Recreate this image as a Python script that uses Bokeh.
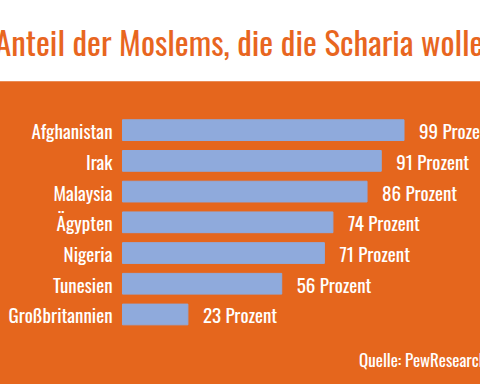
import numpy as np
from bokeh.plotting import figure
from bokeh.models import Range1d, ColumnDataSource, GlobalInlineStyleSheet, BoxAnnotation, Label
from bokeh.core.properties import value
from bokeh.embed import file_html
from bokeh.resources import INLINE

countries = ["Afghanistan", "Irak", "Malaysia", "Ägypten", "Nigeria", "Tunesien", "Großbritannien"]
shares = [99, 91, 86, 74, 71, 56, 23]
value_labels = [f"{v} Prozent" for v in shares]
title_text = "Anteil der Moslems, die die Scharia wollen"
source_text = "Quelle: PewResearch"

FONT = "Oswald"
ORANGE = "#E5661D"
BLUE = "#8FAADC"

src = ColumnDataSource(dict(
    idx=np.arange(len(countries)),
    country=countries,
    share=shares,
    label=value_labels,
))

# frame covers the whole canvas; white header band drawn as an underlay box
p = figure(
    width=484, height=388,
    output_backend="svg", toolbar_location=None,
    x_range=Range1d(-43.6, 126.6),
    y_range=Range1d(8.345, -4.286),
    x_axis_location=None, y_axis_location=None,
    min_border=0,
    background_fill_color=ORANGE, border_fill_color=ORANGE,
    outline_line_color=None,
)
p.grid.visible = False
p.styles = {"margin-left": "-2px", "margin-top": "-2px"}

header = BoxAnnotation(bottom=-1.589, fill_color="white", fill_alpha=1.0,
                       line_color=None, level="underlay")
p.add_layout(header)

p.add_layout(Label(x=43.6, y=-2.87, text=title_text, text_align="center",
                   text_baseline="middle", text_font=FONT, text_font_size="33px",
                   text_color="#E8661F"))

p.hbar(y="idx", left=0, right="share", height=0.675, color=BLUE, source=src)

p.text(x=0, y="idx", text="country", source=src, x_offset=-10,
       text_align="right", text_baseline="middle",
       text_font=value(FONT), text_font_style="normal", text_font_size="19px",
       text_color="white")

p.text(x="share", y="idx", text="label", source=src, x_offset=15,
       text_align="left", text_baseline="middle",
       text_font=value(FONT), text_font_style="normal", text_font_size="19px",
       text_color="white")

p.add_layout(Label(x=83.2, y=7.46, text=source_text, text_align="left",
                   text_baseline="middle", text_font=FONT, text_font_size="17px",
                   text_color="white"))

p.stylesheets = [GlobalInlineStyleSheet(css="html, body { margin: 0 !important; padding: 0; overflow: hidden; background: #E5661D; }")]

open("out.html", "w").write(file_html(p, INLINE))
